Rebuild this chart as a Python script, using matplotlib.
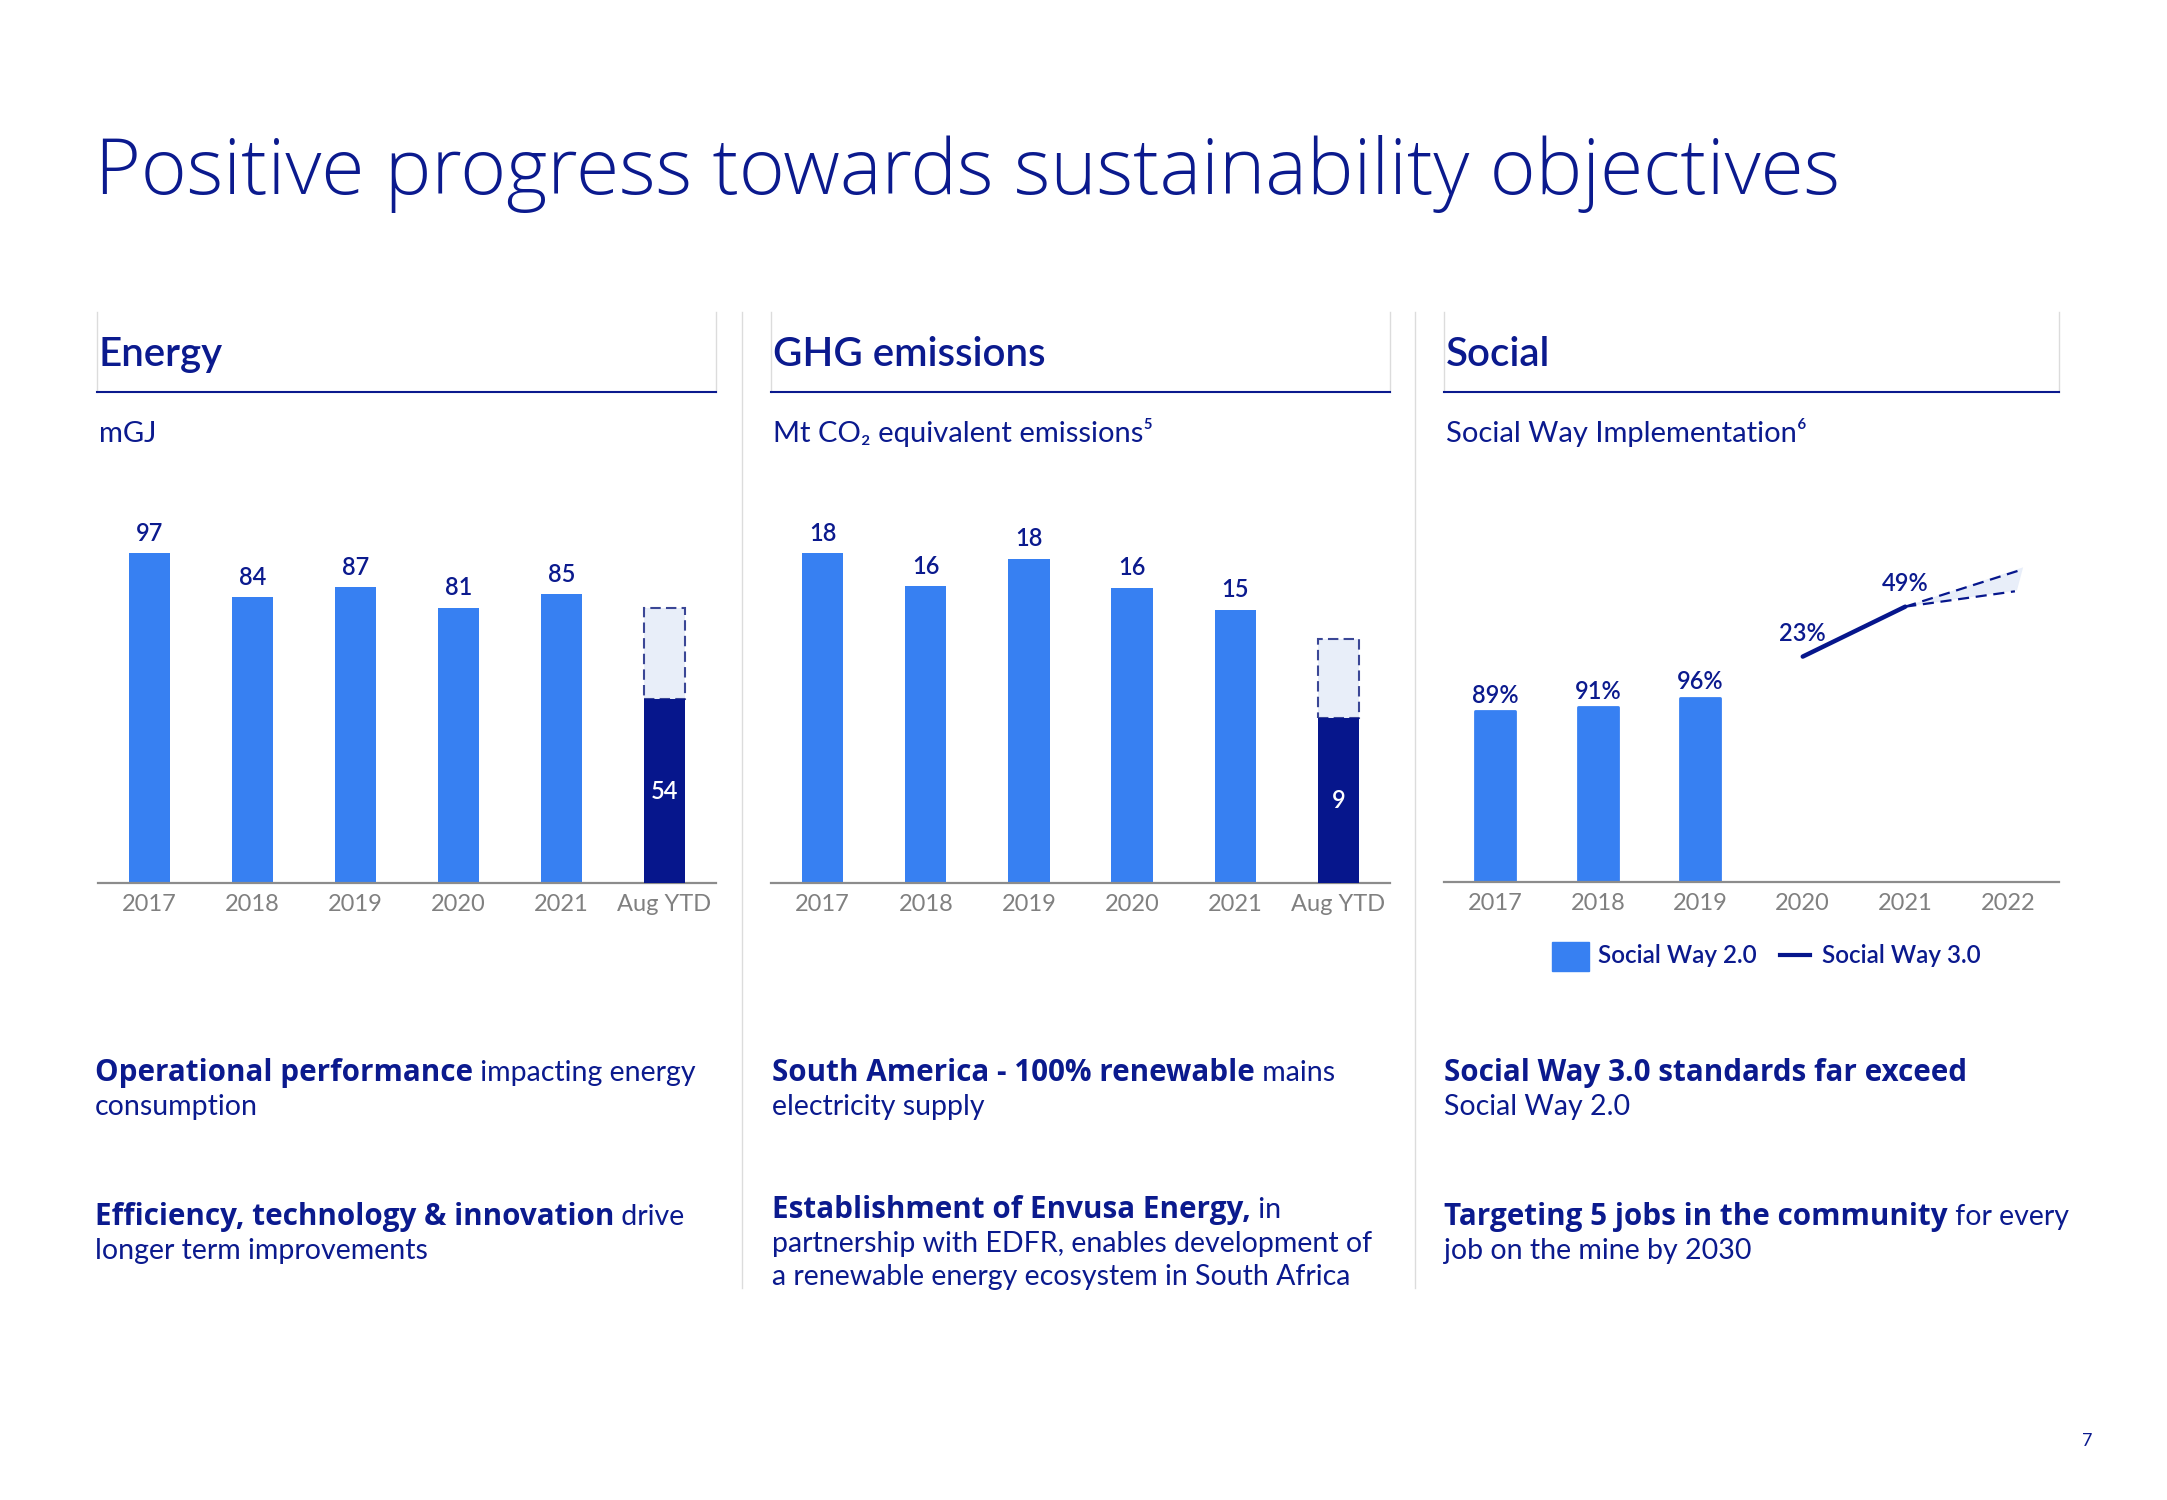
import numpy as np
import matplotlib
matplotlib.use("Agg")
import matplotlib.pyplot as plt
from matplotlib.lines import Line2D
from matplotlib.patches import Rectangle

plt.rcParams['font.family'] = ['Lato', 'DejaVu Sans']

# data
years = ['2017', '2018', '2019', '2020', '2021', 'Aug YTD']
energy = [97, 84, 87, 81, 85]
energy_ytd = 54
energy_full = 81
ghg = [18.0, 16.2, 17.7, 16.1, 14.9]
ghg_ytd = 9
ghg_full = 13.3

social_years = ['2017', '2018', '2019', '2020', '2021', '2022']
sw2 = [89, 91, 96]
sw3_x = [3, 4]
sw3 = [23, 49]
sw3_proj_x = 5.12
sw3_proj_hi = 68
sw3_proj_lo = 57

NAVY = '#0b1a8e'
DARK = '#06168c'
BLUE = '#3780f2'
LIGHT = '#e8eef9'
DASH = '#3b4796'
GREY = '#808080'
SEP = '#dcdcdc'

W, H = 2167, 1500
fig = plt.figure(figsize=(W / 100, H / 100), dpi=100)
renderer = fig.canvas.get_renderer()


def fx(x):
    return x / W


def fy(y):
    return 1 - y / H


def ax_px(x0, y0, x1, y1):
    return fig.add_axes([fx(x0), fy(y1), (x1 - x0) / W, (y1 - y0) / H])


def hline(x0, x1, y, color, lw):
    fig.lines.append(Line2D([fx(x0), fx(x1)], [fy(y), fy(y)], transform=fig.transFigure,
                            color=color, lw=lw))


def vline(x, y0, y1, color, lw):
    fig.lines.append(Line2D([fx(x), fx(x)], [fy(y0), fy(y1)], transform=fig.transFigure,
                            color=color, lw=lw))


def rich(x, y, parts, size=20.5):
    # bold parts in a wider face, plain parts in Lato
    for text, bold in parts:
        if bold:
            kw = dict(family=['Open Sans', 'DejaVu Sans'], fontweight='bold', fontsize=size + 0.8)
        else:
            kw = dict(fontweight='normal', fontsize=size)
        t = fig.text(fx(x), fy(y), text, color=NAVY, va='baseline', ha='left', **kw)
        x += t.get_window_extent(renderer).width


def style_axis(ax, labels):
    for s in ['top', 'left', 'right']:
        ax.spines[s].set_visible(False)
    ax.spines['bottom'].set_color('#8c8c8c')
    ax.spines['bottom'].set_linewidth(1.6)
    ax.set_yticks([])
    ax.set_xticks(range(len(labels)))
    ax.set_xticklabels(labels, fontsize=17, color=GREY)
    ax.tick_params(axis='x', length=0, pad=8)
    ax.set_xlim(-0.5, len(labels) - 0.5)
    ax.patch.set_alpha(0)


# title
fig.text(fx(95), fy(194), 'Positive progress towards sustainability objectives',
         fontsize=56.5, family=['Open Sans', 'Lato'], fontweight='light', color=NAVY, va='baseline')

# panel headers
panels = [(97, 716, 'Energy'), (771, 1390, 'GHG emissions'), (1444, 2059, 'Social')]
subs = ['mGJ', 'Mt CO\u2082 equivalent emissions\u2075', 'Social Way Implementation\u2076']
for (x0, x1, name), sub in zip(panels, subs):
    vline(x0, 312, 392, SEP, 1)
    vline(x1, 312, 392, SEP, 1)
    hline(x0, x1, 392, NAVY, 1.5)
    fig.text(fx(x0 + 2), fy(366), name, fontsize=29, fontweight='semibold', color=NAVY, va='baseline')
    fig.text(fx(x0 + 2), fy(442), sub, fontsize=21, color=NAVY, va='baseline')

vline(742, 312, 1288, SEP, 1)
vline(1415, 312, 1288, SEP, 1)


def bar_panel(ax, vals, ytd, full, labels):
    x = np.arange(len(vals))
    ax.bar(x, vals, width=0.4, color=BLUE, zorder=2)
    for xi, v in zip(x, vals):
        ax.annotate(f'{v:.0f}', (xi, v), xytext=(0, 9), textcoords='offset points',
                    ha='center', va='baseline', fontsize=17, fontweight='semibold', color=NAVY)
    n = len(vals)
    ax.bar(n, full - ytd, bottom=ytd, width=0.4, facecolor=LIGHT, edgecolor=DASH,
           linestyle=(0, (5, 2.5)), linewidth=1.5, zorder=2)
    ax.bar(n, ytd, width=0.4, color=DARK, zorder=3)
    ax.text(n, ytd / 2, f'{ytd}', ha='center', va='center', fontsize=17,
            fontweight='semibold', color='white', zorder=4)
    style_axis(ax, labels)


ax1 = ax_px(98, 497, 716, 883)
ax1.set_ylim(0, 386 / 3.40)
bar_panel(ax1, energy, energy_ytd, energy_full, years)

ax2 = ax_px(771, 497, 1390, 883)
ax2.set_ylim(0, 386 / 18.33)
bar_panel(ax2, ghg, ghg_ytd, ghg_full, years)

# social panel
ax3 = ax_px(1444, 500, 2059, 882)
ax3.set_ylim(0, 382 / 1.92)
ax3.bar(range(len(sw2)), sw2, width=0.39, color=BLUE, edgecolor=BLUE, linewidth=2,
        joinstyle='round', zorder=2)
for xi, v in enumerate(sw2):
    ax3.annotate(f'{v}%', (xi, v), xytext=(0, 6), textcoords='offset points',
                 ha='center', va='baseline', fontsize=17, fontweight='semibold', color=NAVY)
style_axis(ax3, social_years)

ax4 = ax3.twinx()
ax4.set_ylim(-94.4, 382 / 1.92 - 94.4)
ax4.axis('off')
ax4.fill([sw3_x[-1], sw3_proj_x + 0.03, sw3_proj_x - 0.03], [sw3[-1], sw3_proj_hi + 1.5, sw3_proj_lo + 0.5],
         color=LIGHT, lw=0, zorder=1)
ax4.plot([sw3_x[-1], sw3_proj_x], [sw3[-1], sw3_proj_hi], color=DARK, lw=1.6, ls=(0, (5, 3)), zorder=2)
ax4.plot([sw3_x[-1], sw3_proj_x - 0.05], [sw3[-1], sw3_proj_lo], color=DARK, lw=1.6, ls=(0, (5, 3)), zorder=2)
ax4.plot(sw3_x, sw3, color=DARK, lw=3.2, solid_capstyle='round', zorder=3)
for xi, v in zip(sw3_x, sw3):
    ax4.annotate(f'{v}%', (xi, v), xytext=(0, 11), textcoords='offset points',
                 ha='center', va='baseline', fontsize=17, fontweight='semibold', color=NAVY)

# legend
fig.patches.append(Rectangle((fx(1552), fy(971)), 37 / W, 29 / H, transform=fig.transFigure,
                             color=BLUE))
fig.text(fx(1598), fy(963), 'Social Way 2.0', fontsize=17.5, fontweight='semibold', color=NAVY, va='baseline')
hline(1780, 1810, 955, DARK, 3)
fig.text(fx(1822), fy(963), 'Social Way 3.0', fontsize=17.5, fontweight='semibold', color=NAVY, va='baseline')

# commentary
rich(95, 1081, [('Operational performance', True), (' impacting energy', False)])
rich(95, 1115, [('consumption', False)])
rich(95, 1225, [('Efficiency, technology & innovation', True), (' drive', False)])
rich(95, 1259, [('longer term improvements', False)])

rich(772, 1081, [('South America - 100% renewable', True), (' mains', False)])
rich(772, 1115, [('electricity supply', False)])
rich(772, 1218, [('Establishment of Envusa Energy,', True), (' in', False)])
rich(772, 1252, [('partnership with EDFR, enables development of', False)])
rich(772, 1285, [('a renewable energy ecosystem in South Africa', False)])

rich(1444, 1081, [('Social Way 3.0 standards far exceed', True)])
rich(1444, 1115, [('Social Way 2.0', False)])
rich(1444, 1225, [('Targeting 5 jobs in the community', True), (' for every', False)])
rich(1444, 1259, [('job on the mine by 2030', False)])

fig.text(fx(2082), fy(1446), '7', fontsize=13, color=NAVY, va='baseline')

fig.savefig('out.png', dpi=100, facecolor='white')
